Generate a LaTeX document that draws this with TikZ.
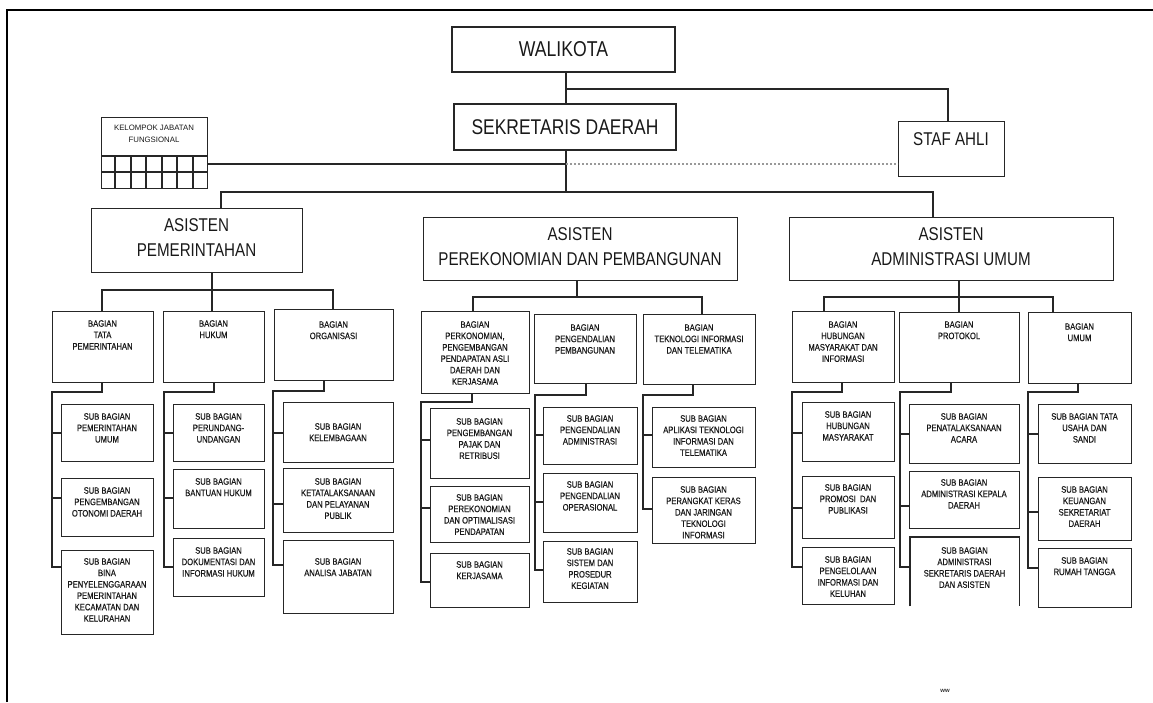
\documentclass[tikz,border=0pt]{standalone}
\usepackage{fontspec}
\setmainfont{Liberation Sans}
\newfontfamily\nar{Liberation Sans}[FakeStretch=0.82]
\newfontfamily\narb{Liberation Sans}[FakeStretch=0.82,FakeBold=0.5]
\usetikzlibrary{calc}
\tikzset{
  bx/.style={draw=black!85, line width=1.3pt, inner sep=0pt, anchor=north west},
  ln/.style={draw=black!85, line width=1.2pt},
  dotl/.style={draw=black!40, line width=1.6pt, dash pattern=on 2pt off 2pt},
  sm/.style={inner sep=0pt, anchor=north, align=center, text=black!90, font=\narb\fontsize{9.3}{11.4}\selectfont},
  big/.style={inner sep=0pt, anchor=north, align=center, text=black!90, font=\nar\fontsize{18.5}{25}\selectfont},
  top/.style={bx, anchor=center, text=black!90, font=\nar\fontsize{21.5}{25}\selectfont},
}
\newcommand\obx[7]{%
  \node[bx, minimum width={(#4-#2)*1pt}, minimum height={(#5-#3)*1pt}] (#1) at (#2,#3) {};
  \node[sm] (#1t) at ({(#2+#4)/2},#6) {#7};}
\newcommand\obxopen[7]{%
  \node[inner sep=0pt, anchor=north west, minimum width={(#4-#2)*1pt}, minimum height={(#5-#3)*1pt}] (#1) at (#2,#3) {};
  \draw[ln, line width=1.3pt] (#1.south west) -- (#1.north west) -- (#1.north east) -- (#1.south east);
  \node[sm] (#1t) at ({(#2+#4)/2},#6) {#7};}
\newcommand\brn[3]{\draw[ln] (#1,#2) -- (#1,#2 -| #3.west);}
\begin{document}
\begin{tikzpicture}[x=1pt,y=-1pt]
\useasboundingbox (0,0) rectangle (1153,702);
% frame
\draw[line width=2.6pt, black] (7,702) -- (7,10) -- (1153,10);

% top
\node[top, minimum width=223pt, minimum height=45pt] (wal) at (563.5,49.5) {WALIKOTA};
\node[top, minimum width=222pt, minimum height=46pt, font=\nar\fontsize{21.3}{25}\selectfont] (sek) at (565,127) {SEKRETARIS DAERAH};
\node[bx, minimum width=106pt, minimum height=55pt] (staf) at (898,121) {};
\node[inner sep=0pt, text=black!90, font=\nar\fontsize{18.5}{22}\selectfont] (staft) at (951,139) {STAF AHLI};

% kelompok jabatan fungsional
\node[bx, minimum width=106pt, minimum height=71pt] (kel) at (101,117) {};
\node[inner sep=0pt, anchor=north, align=center, text=black!90, font=\fontsize{7.8}{12}\selectfont] (kelt) at (154,125) {KELOMPOK JABATAN\\FUNGSIONAL};
\draw[ln] (101,156) -- (207,156);
\draw[ln] (101,172) -- (207,172);
\foreach \gx in {115,131,146,162,177,193} \draw[ln] (\gx,156) -- (\gx,188);

% top connectors
\coordinate (tr) at (566,192);
\draw[ln] (566,0 |- wal.south) -- (566,0 |- sek.north);
\draw[ln] (566,0 |- sek.south) -- (tr);
\coordinate (sa) at (948,89);
\draw[ln] (566,89) -- (sa) -- (948,0 |- staf.north);
\coordinate (kl) at (566,164);
\draw[ln] (kl -| kel.east) -- (kl);
\draw[dotl] (kl) -- (kl -| staf.west);

% asisten
\node[bx, minimum width=211pt, minimum height=64pt] (asp) at (91,208) {};
\node[big] (aspt) at (196.5,218) {ASISTEN\\PEMERINTAHAN};
\node[bx, minimum width=314pt, minimum height=63pt] (asm) at (423,217) {};
\node[big] (asmt) at (580,227) {ASISTEN\\PEREKONOMIAN DAN PEMBANGUNAN};
\node[bx, minimum width=324pt, minimum height=63pt] (asa) at (789,217) {};
\node[big] (asat) at (951,227) {ASISTEN\\ADMINISTRASI UMUM};

\coordinate (hl) at (221,192);
\coordinate (hr) at (933,192);
\draw[ln] (221,0 |- asp.north) -- (hl) -- (hr) -- (933,0 |- asa.north);

% ===== group 1: pemerintahan
\obx{b1}{52}{311}{153}{382}{320}{BAGIAN\\TATA\\PEMERINTAHAN}
\obx{b2}{163}{311}{264}{382}{320}{BAGIAN\\HUKUM}
\obx{b3}{274}{309}{393}{380}{321}{BAGIAN\\ORGANISASI}
\draw[ln] (212,0 |- asp.south) -- (212,290);
\draw[ln] (102,0 |- b1.north) -- (102,290) -- (333,290) -- (333,0 |- b3.north);
\draw[ln] (212,290) -- (212,0 |- b2.north);

\obx{s11}{61}{404}{153}{461}{413}{SUB BAGIAN\\PEMERINTAHAN\\UMUM}
\obx{s12}{61}{478}{153}{536}{487}{SUB BAGIAN\\PENGEMBANGAN\\OTONOMI DAERAH}
\obx{s13}{61}{550}{153}{634}{558}{SUB BAGIAN\\BINA\\PENYELENGGARAAN\\PEMERINTAHAN\\KECAMATAN DAN\\KELURAHAN}
\draw[ln] (102,0 |- b1.south) -- (102,392) -- (52,392) -- (52,567) -- (52,567 -| s13.west);
\brn{52}{433}{s11}
\brn{52}{498}{s12}

\obx{s21}{173}{404}{264}{461}{413}{SUB BAGIAN\\PERUNDANG-\\UNDANGAN}
\obx{s22}{173}{469}{264}{528}{478}{SUB BAGIAN\\BANTUAN HUKUM}
\obx{s23}{173}{538}{264}{596}{547}{SUB BAGIAN\\DOKUMENTASI DAN\\INFORMASI HUKUM}
\draw[ln] (214,0 |- b2.south) -- (214,392) -- (164,392) -- (164,567) -- (164,567 -| s23.west);
\brn{164}{433}{s21}
\brn{164}{498}{s22}

\obx{s31}{283}{402}{393}{462}{423}{SUB BAGIAN\\KELEMBAGAAN}
\obx{s32}{283}{468}{393}{532}{478}{SUB BAGIAN\\KETATALAKSANAAN\\DAN PELAYANAN\\PUBLIK}
\obx{s33}{283}{540}{393}{613}{558}{SUB BAGIAN\\ANALISA JABATAN}
\draw[ln] (324,0 |- b3.south) -- (324,391) -- (273,391) -- (273,565) -- (273,565 -| s33.west);
\brn{273}{433}{s31}
\brn{273}{504}{s32}

% ===== group 2: perekonomian
\obx{b4}{421}{311}{529}{393}{321}{BAGIAN\\PERKONOMIAN,\\PENGEMBANGAN\\PENDAPATAN ASLI\\DAERAH DAN\\KERJASAMA}
\obx{b5}{534}{314}{636}{383}{324}{BAGIAN\\PENGENDALIAN\\PEMBANGUNAN}
\obx{b6}{643}{314}{755}{384}{324}{BAGIAN\\TEKNOLOGI INFORMASI\\DAN TELEMATIKA}
\draw[ln] (577,0 |- asm.south) -- (577,297);
\draw[ln] (473,0 |- b4.north) -- (473,297) -- (702,297) -- (702,0 |- b6.north);

\obx{s41}{430}{408}{529}{478}{418}{SUB BAGIAN\\PENGEMBANGAN\\PAJAK DAN\\RETRIBUSI}
\obx{s42}{430}{486}{529}{542}{494}{SUB BAGIAN\\PEREKONOMIAN\\DAN OPTIMALISASI\\PENDAPATAN}
\obx{s43}{430}{553}{529}{607}{561}{SUB BAGIAN\\KERJASAMA}
\draw[ln] (472,0 |- b4.south) -- (472,402) -- (421,402) -- (421,582) -- (421,582 -| s43.west);
\brn{421}{440}{s41}
\brn{421}{508}{s42}

\obx{s51}{543}{407}{637}{464}{415}{SUB BAGIAN\\PENGENDALIAN\\ADMINISTRASI}
\obx{s52}{543}{473}{637}{532}{481}{SUB BAGIAN\\PENGENDALIAN\\OPERASIONAL}
\obx{s53}{543}{541}{637}{602}{548}{SUB BAGIAN\\SISTEM DAN\\PROSEDUR\\KEGIATAN}
\draw[ln] (586,0 |- b5.south) -- (586,395) -- (535,395) -- (535,570) -- (535,570 -| s53.west);
\brn{535}{435}{s51}
\brn{535}{502}{s52}

\obx{s61}{652}{407}{755}{467}{415}{SUB BAGIAN\\APLIKASI TEKNOLOGI\\INFORMASI DAN\\TELEMATIKA}
\obx{s62}{652}{477}{755}{543}{486}{SUB BAGIAN\\PERANGKAT KERAS\\DAN JARINGAN\\TEKNOLOGI\\INFORMASI}
\draw[ln] (693,0 |- b6.south) -- (693,395) -- (643,395) -- (643,509) -- (643,509 -| s62.west);
\brn{643}{435}{s61}

% ===== group 3: administrasi umum
\obx{b7}{792}{311}{894}{382}{321}{BAGIAN\\HUBUNGAN\\MASYARAKAT DAN\\INFORMASI}
\obx{b8}{899}{312}{1019}{382}{321}{BAGIAN\\PROTOKOL}
\obx{b9}{1028}{312}{1131}{383}{323}{BAGIAN\\UMUM}
\draw[ln] (959,0 |- asa.south) -- (959,0 |- b8.north);
\draw[ln] (824,0 |- b7.north) -- (824,297) -- (1053,297) -- (1053,0 |- b9.north);

\obx{s71}{802}{402}{894}{461}{411}{SUB BAGIAN\\HUBUNGAN\\MASYARAKAT}
\obx{s72}{802}{476}{894}{538}{484}{SUB BAGIAN\\PROMOSI\ \ DAN\\PUBLIKASI}
\obx{s73}{802}{547}{894}{604}{556}{SUB BAGIAN\\PENGELOLAAN\\INFORMASI DAN\\KELUHAN}
\draw[ln] (842,0 |- b7.south) -- (842,392) -- (792,392) -- (792,567) -- (792,567 -| s73.west);
\brn{792}{433}{s71}
\brn{792}{508}{s72}

\obx{s81}{909}{404}{1019}{463}{413}{SUB BAGIAN\\PENATALAKSANAAN\\ACARA}
\obx{s82}{909}{471}{1019}{528}{479}{SUB BAGIAN\\ADMINISTRASI KEPALA\\DAERAH}
\obxopen{s83}{910}{537}{1019}{606}{547}{SUB BAGIAN\\ADMINISTRASI\\SEKRETARIS DAERAH\\DAN ASISTEN}
\draw[ln] (951,0 |- b8.south) -- (951,392) -- (900,392) -- (900,567) -- (900,567 -| s83.west);
\brn{900}{434}{s81}
\brn{900}{506}{s82}

\obx{s91}{1038}{404}{1131}{463}{413}{SUB BAGIAN TATA\\USAHA DAN\\SANDI}
\obx{s92}{1038}{477}{1131}{540}{486}{SUB BAGIAN\\KEUANGAN\\SEKRETARIAT\\DAERAH}
\obx{s93}{1038}{548}{1131}{607}{557}{SUB BAGIAN\\RUMAH TANGGA}
\draw[ln] (1078,0 |- b9.south) -- (1078,392) -- (1028,392) -- (1028,568) -- (1028,568 -| s93.west);
\brn{1028}{434}{s91}
\brn{1028}{512}{s92}

\node[inner sep=0pt, text=black!80, font=\bfseries\fontsize{6}{6}\selectfont] (ww) at (945,691) {ww};
\end{tikzpicture}
\end{document}
